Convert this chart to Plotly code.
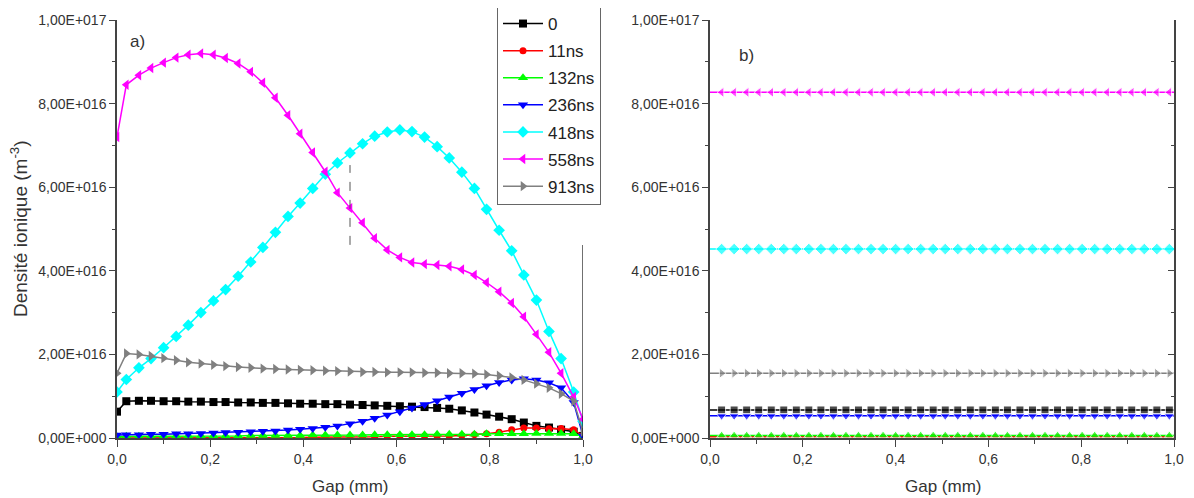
import plotly.graph_objects as go

# ---------------- data (ion density in units of 1e16 m^-3) ----------------
GAP_A = [0.0, 0.02, 0.047, 0.073, 0.10, 0.127, 0.153, 0.18, 0.207, 0.233,
         0.26, 0.287, 0.313, 0.34, 0.367, 0.393, 0.42, 0.447, 0.473, 0.50,
         0.527, 0.553, 0.58, 0.607, 0.633, 0.66, 0.687, 0.713, 0.74, 0.767,
         0.793, 0.82, 0.847, 0.873, 0.90, 0.927, 0.953, 0.98, 1.0]

SERIES_NAMES = ["0", "11ns", "132ns", "236ns", "418ns", "558ns", "913ns"]

A_0 = [0.63, 0.88, 0.89, 0.89, 0.88, 0.88, 0.87, 0.87, 0.86, 0.86,
       0.85, 0.85, 0.84, 0.84, 0.83, 0.82, 0.82, 0.81, 0.81, 0.80,
       0.79, 0.78, 0.77, 0.76, 0.75, 0.74, 0.72, 0.70, 0.66, 0.61,
       0.56, 0.51, 0.45, 0.37, 0.29, 0.25, 0.20, 0.15, 0.05]
A_11 = [0.00, 0.00, 0.00, 0.00, 0.00, 0.00, 0.00, 0.00, 0.00, 0.00,
        0.00, 0.01, 0.01, 0.01, 0.01, 0.01, 0.02, 0.02, 0.02, 0.03,
        0.03, 0.03, 0.04, 0.04, 0.04, 0.05, 0.05, 0.05, 0.06, 0.08,
        0.10, 0.14, 0.20, 0.24, 0.24, 0.22, 0.23, 0.20, 0.05]
A_132 = [0.03, 0.04, 0.04, 0.04, 0.04, 0.05, 0.05, 0.05, 0.05, 0.05,
         0.05, 0.06, 0.06, 0.06, 0.06, 0.06, 0.07, 0.07, 0.07, 0.07,
         0.07, 0.08, 0.08, 0.08, 0.08, 0.08, 0.09, 0.09, 0.09, 0.09,
         0.10, 0.10, 0.10, 0.10, 0.11, 0.11, 0.11, 0.10, 0.04]
A_236 = [0.07, 0.08, 0.08, 0.09, 0.09, 0.10, 0.10, 0.11, 0.12, 0.13,
         0.14, 0.15, 0.16, 0.17, 0.19, 0.21, 0.23, 0.26, 0.29, 0.34,
         0.40, 0.47, 0.55, 0.63, 0.72, 0.80, 0.89, 0.98, 1.07, 1.16,
         1.25, 1.33, 1.39, 1.42, 1.39, 1.32, 1.20, 0.85, 0.05]
A_418 = [1.10, 1.40, 1.68, 1.90, 2.16, 2.43, 2.70, 3.00, 3.28, 3.55,
         3.87, 4.21, 4.56, 4.92, 5.30, 5.62, 5.97, 6.31, 6.58, 6.82,
         7.04, 7.22, 7.32, 7.37, 7.33, 7.20, 6.97, 6.70, 6.36, 5.97,
         5.47, 4.97, 4.48, 3.90, 3.30, 2.55, 1.90, 1.10, 0.40]
A_558 = [7.20, 8.45, 8.68, 8.85, 8.98, 9.10, 9.17, 9.20, 9.17, 9.09,
         8.96, 8.76, 8.50, 8.14, 7.72, 7.28, 6.83, 6.37, 5.87, 5.50,
         5.15, 4.78, 4.50, 4.32, 4.20, 4.16, 4.14, 4.11, 4.03, 3.90,
         3.72, 3.50, 3.23, 2.90, 2.48, 2.05, 1.55, 0.98, 0.45]
A_913 = [1.55, 2.02, 2.00, 1.96, 1.91, 1.86, 1.81, 1.78, 1.75, 1.72,
         1.70, 1.68, 1.66, 1.65, 1.64, 1.63, 1.62, 1.61, 1.60, 1.59,
         1.58, 1.58, 1.57, 1.57, 1.57, 1.56, 1.56, 1.55, 1.55, 1.54,
         1.52, 1.49, 1.45, 1.39, 1.30, 1.20, 1.06, 0.88, 0.15]

GAP_B = [0.0, 0.025, 0.052, 0.079, 0.105, 0.132, 0.159, 0.186, 0.213, 0.239,
         0.266, 0.293, 0.320, 0.347, 0.373, 0.400, 0.427, 0.454, 0.481, 0.507,
         0.534, 0.561, 0.588, 0.615, 0.641, 0.668, 0.695, 0.722, 0.749, 0.775,
         0.802, 0.829, 0.856, 0.883, 0.909, 0.936, 0.963, 0.990, 1.0]
# panel b) levels (constant across the gap), units of 1e16 m^-3
B_LEVELS = [0.67, 0.03, 0.06, 0.53, 4.52, 8.27, 1.55]

Y_TICKS = [0, 2, 4, 6, 8, 10]
Y_TICK_TEXT = ["0,00E+000", "2,00E+016", "4,00E+016", "6,00E+016", "8,00E+016", "1,00E+017"]
X_TICKS = [0.0, 0.2, 0.4, 0.6, 0.8, 1.0]
X_TICK_TEXT = ["0,0", "0,2", "0,4", "0,6", "0,8", "1,0"]

# ---------------- styles ----------------
COLORS = ["#000000", "#ff0000", "#00ff00", "#0000ff", "#00ffff", "#ff00ff", "#808080"]
SYMBOLS = ["square", "circle", "triangle-up", "triangle-down", "diamond", "triangle-left", "triangle-right"]
SIZES = [8, 7, 9, 9, 9, 9, 9]

SCALE = 1e16
A_DATA = [A_0, A_11, A_132, A_236, A_418, A_558, A_913]

fig = go.Figure()

for i, name in enumerate(SERIES_NAMES):
    fig.add_trace(go.Scatter(
        x=GAP_A, y=[v * SCALE for v in A_DATA[i]], name=name,
        mode="lines+markers", legendgroup=name,
        line=dict(color=COLORS[i], width=1.5),
        marker=dict(symbol=SYMBOLS[i], size=SIZES[i], color=COLORS[i]),
        xaxis="x", yaxis="y"))

for i, name in enumerate(SERIES_NAMES):
    sizes = [0] + [SIZES[i]] * (len(GAP_B) - 2) + [0]
    fig.add_trace(go.Scatter(
        x=GAP_B, y=[B_LEVELS[i] * SCALE] * len(GAP_B), name=name,
        mode="lines+markers", showlegend=False, legendgroup=name,
        line=dict(color=COLORS[i], width=1.5),
        marker=dict(symbol=SYMBOLS[i], size=sizes, color=COLORS[i]),
        xaxis="x2", yaxis="y2"))

# empty helper trace so the right-hand frame axis of panel b) is drawn
fig.add_trace(go.Scatter(x=[None], y=[None], showlegend=False, hoverinfo="skip",
                         xaxis="x2", yaxis="y3"))

# page has an 8px body margin; figure is sized to fill the rest of the window
OFF = 8
W, H = 1194 - OFF, 498 - OFF
def px_x(p):
    return (p - OFF) / W
def px_y(p):
    return 1 - (p - OFF) / H

AX_COLOR = "#444444"
FONT = "Liberation Sans, Arial, sans-serif"
TICK_FONT = dict(family=FONT, size=14, color="#333333")

def xaxis(domain, anchor):
    return dict(domain=domain, anchor=anchor, range=[0, 1.0], tickmode="array",
                tickvals=X_TICKS, ticktext=X_TICK_TEXT, ticks="outside", ticklen=7,
                tickwidth=1.2, tickcolor=AX_COLOR, showline=True, linecolor=AX_COLOR,
                linewidth=1.5, showgrid=False, zeroline=False, tickfont=TICK_FONT,
                automargin=False,
                minor=dict(tickmode="linear", tick0=0, dtick=0.1, ticks="outside",
                           ticklen=4, tickcolor=AX_COLOR, tickwidth=1))

def yaxis(domain, anchor, ticks="outside", labels=True, side="left", overlay=None):
    d = dict(domain=domain, anchor=anchor, range=[0, 1.0e17], tickmode="array",
             tickvals=[v * SCALE for v in Y_TICKS], ticktext=Y_TICK_TEXT,
             ticks=ticks, ticklen=6, tickwidth=1.2, tickcolor=AX_COLOR,
             showline=True, linecolor=AX_COLOR, linewidth=1.5, side=side,
             showticklabels=labels,
             showgrid=False, zeroline=False, tickfont=TICK_FONT, automargin=False,
             minor=dict(tickmode="linear", tick0=0, dtick=1e16, ticks=ticks,
                        ticklen=3, tickcolor=AX_COLOR, tickwidth=1))
    if overlay:
        d["overlaying"] = overlay
    return d

ydom = [px_y(438), px_y(20)]
LABEL_FONT = dict(family=FONT, size=17, color="#333333")
fig.update_layout(
    width=W, height=H,
    margin=dict(l=0, r=0, t=0, b=0, autoexpand=False),
    paper_bgcolor="white", plot_bgcolor="white",
    xaxis=xaxis([px_x(117), px_x(583)], "y"),
    yaxis=yaxis(ydom, "x"),
    xaxis2=xaxis([px_x(710), px_x(1174)], "y2"),
    yaxis2=yaxis(ydom, "x2"),
    yaxis3=yaxis(ydom, "x2", ticks="inside", labels=False, side="right", overlay="y2"),
    legend=dict(x=px_x(497), y=px_y(5), xanchor="left", yanchor="top",
                bgcolor="white", bordercolor="#666666", borderwidth=1,
                font=dict(family=FONT, size=17, color="#222222"),
                tracegroupgap=2, itemwidth=40),
    showlegend=True,
    shapes=[
        dict(type="line", xref="x", yref="y", x0=1.0, x1=1.0, y0=0, y1=4.62e16,
             line=dict(color="#111111", width=1.2)),
        dict(type="line", xref="x", yref="y", x0=0.5, x1=0.5, y0=4.62e16, y1=6.53e16,
             line=dict(color="#555555", width=1, dash="dash")),
    ],
    annotations=[
        dict(text="a)", xref="paper", yref="paper", x=px_x(137), y=px_y(42),
             xanchor="center", yanchor="middle", showarrow=False, font=LABEL_FONT),
        dict(text="b)", xref="paper", yref="paper", x=px_x(747), y=px_y(55),
             xanchor="center", yanchor="middle", showarrow=False, font=LABEL_FONT),
        dict(text="Densité ionique (m<sup>-3</sup>)", xref="paper", yref="paper",
             x=px_x(19), y=px_y(229), textangle=-90, showarrow=False,
             xanchor="center", yanchor="middle",
             font=dict(family=FONT, size=19, color="#333333")),
        dict(text="Gap (mm)", xref="paper", yref="paper", x=px_x(350), y=px_y(486),
             showarrow=False, xanchor="center", yanchor="middle", font=LABEL_FONT),
        dict(text="Gap (mm)", xref="paper", yref="paper", x=px_x(943), y=px_y(486),
             showarrow=False, xanchor="center", yanchor="middle", font=LABEL_FONT),
    ],
)

fig.write_html("out.html")
